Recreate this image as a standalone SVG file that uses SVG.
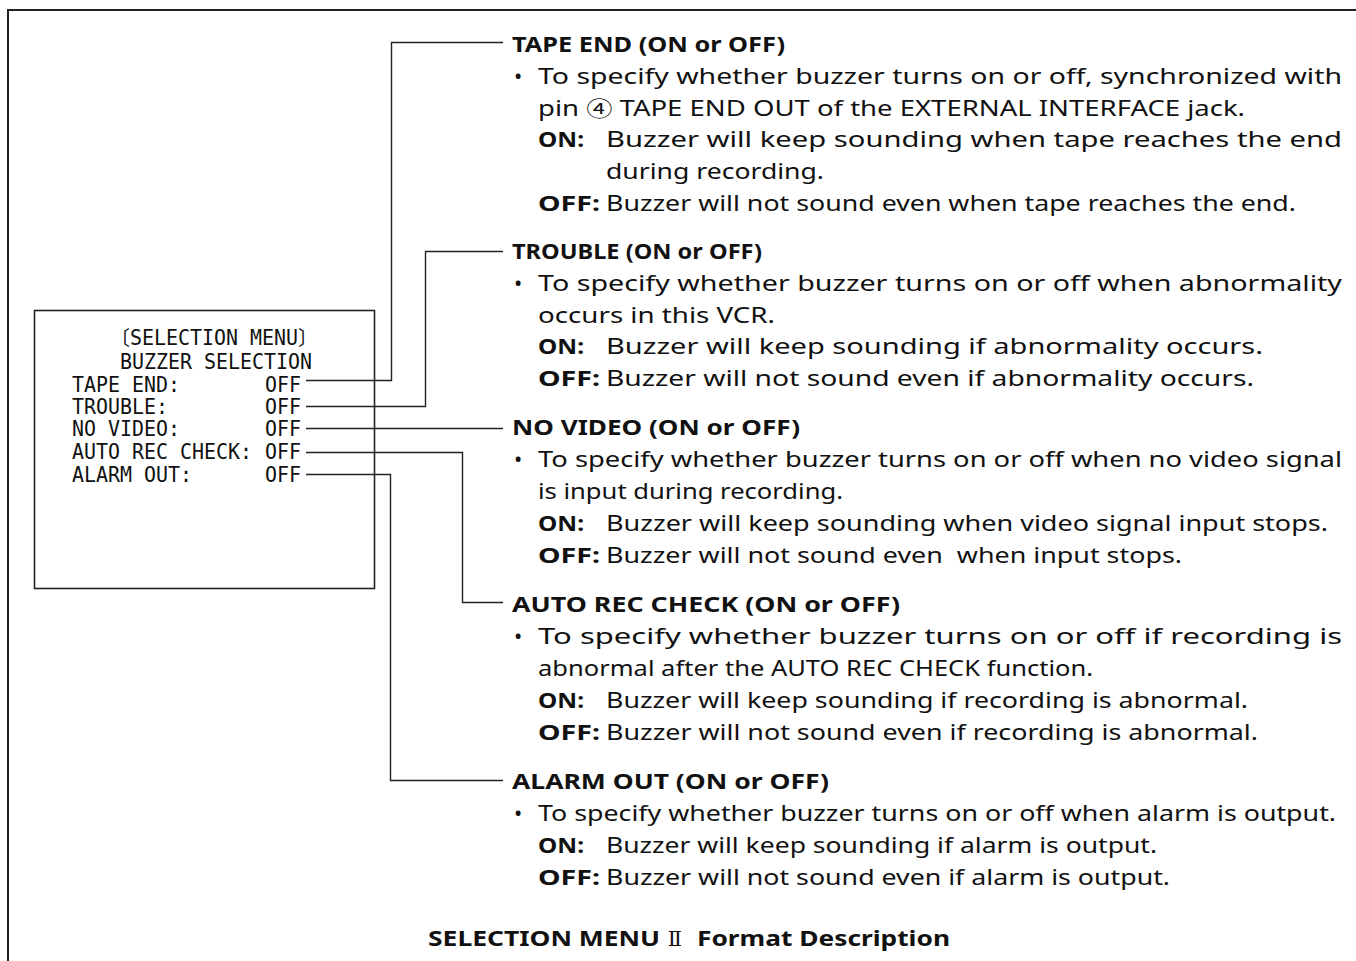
<svg xmlns="http://www.w3.org/2000/svg" width="1356" height="961" viewBox="0 0 1356 961">
<style>
.t{font-family:"Noto Sans","Open Sans","DejaVu Sans",sans-serif;font-size:22px;fill:#111}
.b{font-weight:bold}
.m{font-family:"DejaVu Sans Mono","Liberation Mono",monospace;font-size:20px;fill:#111}
.cj{font-family:"Noto Sans CJK JP",sans-serif;font-size:20px;fill:#111}
.rn{font-family:"DejaVu Serif","Liberation Serif","Noto Sans CJK JP",serif;font-size:21px;fill:#111}
.ln{fill:none;stroke:#222;stroke-width:1.4}
</style>
<rect x="8" y="10" width="1400" height="1000" fill="#fff" stroke="#222" stroke-width="2"/>
<g id="menu">
<rect x="34.5" y="310.5" width="340" height="278" fill="none" stroke="#222" stroke-width="1.6"/>
<text class="cj" x="130" y="345" text-anchor="end">〔</text>
<g transform="translate(130,345) scale(1,1.1)"><text class="m" textLength="168" lengthAdjust="spacingAndGlyphs">SELECTION MENU</text></g>
<text class="cj" x="298" y="345">〕</text>
<g transform="translate(120,368.5) scale(1,1.1)"><text class="m" textLength="192" lengthAdjust="spacingAndGlyphs">BUZZER SELECTION</text></g>
<g transform="translate(72,391.5) scale(1,1.1)"><text class="m" textLength="108" lengthAdjust="spacingAndGlyphs">TAPE END:</text></g>
<g transform="translate(72,413.5) scale(1,1.1)"><text class="m" textLength="96" lengthAdjust="spacingAndGlyphs">TROUBLE:</text></g>
<g transform="translate(72,435.5) scale(1,1.1)"><text class="m" textLength="108" lengthAdjust="spacingAndGlyphs">NO VIDEO:</text></g>
<g transform="translate(72,459) scale(1,1.1)"><text class="m" textLength="180" lengthAdjust="spacingAndGlyphs">AUTO REC CHECK:</text></g>
<g transform="translate(72,482) scale(1,1.1)"><text class="m" textLength="120" lengthAdjust="spacingAndGlyphs">ALARM OUT:</text></g>
<g transform="translate(265,391.5) scale(1,1.1)"><text class="m" textLength="36" lengthAdjust="spacingAndGlyphs">OFF</text></g>
<g transform="translate(265,413.5) scale(1,1.1)"><text class="m" textLength="36" lengthAdjust="spacingAndGlyphs">OFF</text></g>
<g transform="translate(265,435.5) scale(1,1.1)"><text class="m" textLength="36" lengthAdjust="spacingAndGlyphs">OFF</text></g>
<g transform="translate(265,459) scale(1,1.1)"><text class="m" textLength="36" lengthAdjust="spacingAndGlyphs">OFF</text></g>
<g transform="translate(265,482) scale(1,1.1)"><text class="m" textLength="36" lengthAdjust="spacingAndGlyphs">OFF</text></g>
</g>
<g id="connectors">
<path class="ln" d="M306,380.5 H391.5 V42.5 H503"/>
<path class="ln" d="M306,406.5 H425.5 V251.5 H503"/>
<path class="ln" d="M306,428.5 H503"/>
<path class="ln" d="M306,452.5 H462.5 V602.5 H503"/>
<path class="ln" d="M306,474.5 H390.5 V780.5 H503"/>
</g>
<g id="tape-end">
<text class="t b" x="512" y="51.5" textLength="273" lengthAdjust="spacingAndGlyphs">TAPE END (ON or OFF)</text>
<text class="t" x="514" y="83.5">•</text>
<text class="t" x="538" y="83.5" textLength="804" lengthAdjust="spacingAndGlyphs">To specify whether buzzer turns on or off, synchronized with</text>
<text class="t" x="538" y="115.5" textLength="707" lengthAdjust="spacingAndGlyphs">pin <tspan font-family="Noto Sans CJK JP,sans-serif" font-size="21">④</tspan> TAPE END OUT of the EXTERNAL INTERFACE jack.</text>
<text class="t b" x="538" y="146.5" textLength="46" lengthAdjust="spacingAndGlyphs">ON:</text>
<text class="t" x="606" y="146.5" textLength="736" lengthAdjust="spacingAndGlyphs">Buzzer will keep sounding when tape reaches the end</text>
<text class="t" x="606" y="178.5" textLength="218" lengthAdjust="spacingAndGlyphs">during recording.</text>
<text class="t b" x="538" y="210.5" textLength="62" lengthAdjust="spacingAndGlyphs">OFF:</text>
<text class="t" x="606" y="210.5" textLength="690" lengthAdjust="spacingAndGlyphs">Buzzer will not sound even when tape reaches the end.</text>
</g>
<g id="trouble">
<text class="t b" x="512" y="259" textLength="250" lengthAdjust="spacingAndGlyphs">TROUBLE (ON or OFF)</text>
<text class="t" x="514" y="291">•</text>
<text class="t" x="538" y="291" textLength="804" lengthAdjust="spacingAndGlyphs">To specify whether buzzer turns on or off when abnormality</text>
<text class="t" x="538" y="322.5" textLength="237" lengthAdjust="spacingAndGlyphs">occurs in this VCR.</text>
<text class="t b" x="538" y="354" textLength="46" lengthAdjust="spacingAndGlyphs">ON:</text>
<text class="t" x="606" y="354" textLength="657" lengthAdjust="spacingAndGlyphs">Buzzer will keep sounding if abnormality occurs.</text>
<text class="t b" x="538" y="386" textLength="62" lengthAdjust="spacingAndGlyphs">OFF:</text>
<text class="t" x="606" y="386" textLength="648" lengthAdjust="spacingAndGlyphs">Buzzer will not sound even if abnormality occurs.</text>
</g>
<g id="no-video">
<text class="t b" x="512" y="435" textLength="288" lengthAdjust="spacingAndGlyphs">NO VIDEO (ON or OFF)</text>
<text class="t" x="514" y="467">•</text>
<text class="t" x="538" y="467" textLength="804" lengthAdjust="spacingAndGlyphs">To specify whether buzzer turns on or off when no video signal</text>
<text class="t" x="538" y="499" textLength="305" lengthAdjust="spacingAndGlyphs">is input during recording.</text>
<text class="t b" x="538" y="531" textLength="46" lengthAdjust="spacingAndGlyphs">ON:</text>
<text class="t" x="606" y="531" textLength="722" lengthAdjust="spacingAndGlyphs">Buzzer will keep sounding when video signal input stops.</text>
<text class="t b" x="538" y="563" textLength="62" lengthAdjust="spacingAndGlyphs">OFF:</text>
<text class="t" x="606" y="563" textLength="576" lengthAdjust="spacingAndGlyphs">Buzzer will not sound even&#160; when input stops.</text>
</g>
<g id="auto-rec-check">
<text class="t b" x="512" y="612" textLength="388" lengthAdjust="spacingAndGlyphs">AUTO REC CHECK (ON or OFF)</text>
<text class="t" x="514" y="644">•</text>
<text class="t" x="538" y="644" textLength="804" lengthAdjust="spacingAndGlyphs">To specify whether buzzer turns on or off if recording is</text>
<text class="t" x="538" y="676" textLength="555" lengthAdjust="spacingAndGlyphs">abnormal after the AUTO REC CHECK function.</text>
<text class="t b" x="538" y="708" textLength="46" lengthAdjust="spacingAndGlyphs">ON:</text>
<text class="t" x="606" y="708" textLength="642" lengthAdjust="spacingAndGlyphs">Buzzer will keep sounding if recording is abnormal.</text>
<text class="t b" x="538" y="740" textLength="62" lengthAdjust="spacingAndGlyphs">OFF:</text>
<text class="t" x="606" y="740" textLength="652" lengthAdjust="spacingAndGlyphs">Buzzer will not sound even if recording is abnormal.</text>
</g>
<g id="alarm-out">
<text class="t b" x="512" y="789" textLength="317" lengthAdjust="spacingAndGlyphs">ALARM OUT (ON or OFF)</text>
<text class="t" x="514" y="821">•</text>
<text class="t" x="538" y="821" textLength="798" lengthAdjust="spacingAndGlyphs">To specify whether buzzer turns on or off when alarm is output.</text>
<text class="t b" x="538" y="853" textLength="46" lengthAdjust="spacingAndGlyphs">ON:</text>
<text class="t" x="606" y="853" textLength="551" lengthAdjust="spacingAndGlyphs">Buzzer will keep sounding if alarm is output.</text>
<text class="t b" x="538" y="885" textLength="62" lengthAdjust="spacingAndGlyphs">OFF:</text>
<text class="t" x="606" y="885" textLength="564" lengthAdjust="spacingAndGlyphs">Buzzer will not sound even if alarm is output.</text>
</g>
<g id="title">
<text class="t b" x="428" y="946" textLength="232" lengthAdjust="spacingAndGlyphs">SELECTION MENU</text>
<text class="rn" x="675" y="946" text-anchor="middle">Ⅱ</text>
<text class="t b" x="697" y="946" textLength="253" lengthAdjust="spacingAndGlyphs">Format Description</text>
</g>
</svg>
